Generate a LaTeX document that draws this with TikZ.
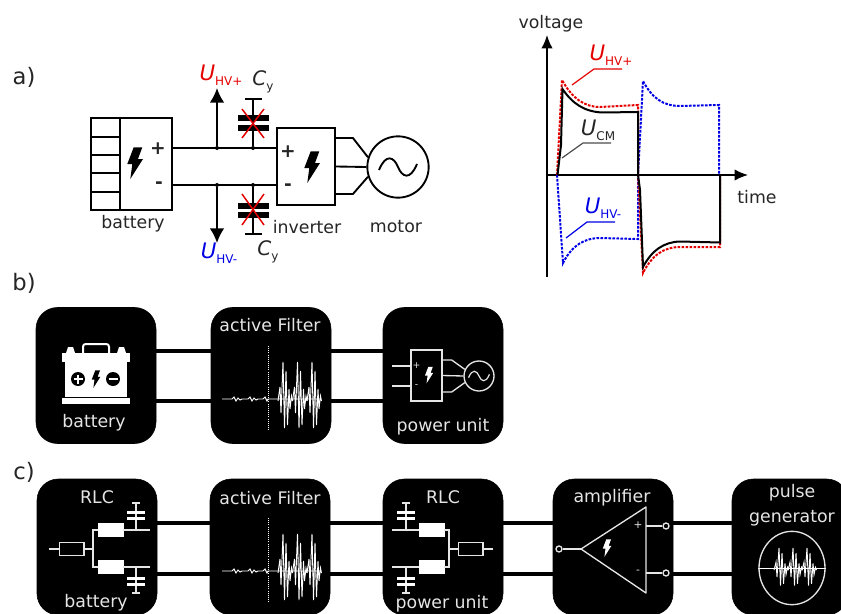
\documentclass[tikz,border=0pt]{standalone}
\usepackage{fontspec}
\setmainfont{DejaVu Sans}
\usetikzlibrary{shapes.geometric,arrows.meta,positioning}

\newcommand{\boltmark}[4]{\fill[#4,shift={(#1,#2)},scale=#3] (-1.3,-15.7) -- (7.3,-15.7) -- (3,-4) -- (8,-4) -- (-4.7,16) -- (-2.7,1) -- (-7.7,1) -- cycle;}
\newcommand{\sinemark}[4]{\draw[#4,shift={(#1,#2)},scale=#3] (-19,3) .. controls (-12,-14) and (-4,-10) .. (0,0) .. controls (4,10) and (12,14) .. (19,-3);}
\newcommand{\ulabel}[1]{{\fontsize{16}{16}\selectfont\textit{U}}\raisebox{-0.5ex}{\fontsize{9}{10}\selectfont #1}}
\newcommand{\clabel}{{\fontsize{15}{15}\selectfont\textit{C}}\raisebox{-0.5ex}{\fontsize{9}{10}\selectfont y}}
\newcommand{\burstline}{(-5,2) -- (-3,-12) -- (-2,14) -- (0,-37) -- (1.5,29) -- (3,-28) -- (4.5,26) -- (6,-10) -- (7,10) -- (8.5,-3) -- (9.5,2)}
% filter trace, origin on the dotted line
\newcommand{\filtertrace}{
	\draw[trace] (-46,0) -- (-36,0) -- (-34,-2) -- (-32,2) -- (-30,-1) -- (-28,1) -- (-26,0) -- (-20,0) -- (-18,-2) -- (-16,2) -- (-14,-1) -- (-12,1) -- (-10,0) -- (-5,0) -- (-3,-2) -- (-1,2) -- (0,0) -- (52,0);
	\draw[white,densely dotted,line width=0.6pt] (0,-53) -- (0,31);
	\foreach \bx in {15,29.5,44} {
		\draw[trace,shift={(\bx,0)}] \burstline;
	}
}
% RLC network, #1 is the anchor facing the fork and #2 the far one
\newcommand{\rlcnet}[2]{
	\node[hollowres] (ResIn) at (71.5,549) {};
	\node[solidres] (ResUp) at (110.5,530) {};
	\node[solidres] (ResDn) at (110.5,567) {};
	\coordinate (RlcIn) at (49,549);
	\coordinate (RlcFork) at (93,549);
	\coordinate (RlcUp) at (150,530);
	\coordinate (RlcDn) at (150,567);
	\coordinate (CapUp) at (136,530);
	\coordinate (CapDn) at (136,567);
	\draw[thinwire] (RlcIn) -- (ResIn.#1);
	\draw[thinwire] (ResIn.#2) -- (RlcFork);
	\draw[thinwire] (ResUp.#1) -| (RlcFork) |- (ResDn.#1);
	\draw[thinwire] (ResUp.#2) -- (RlcUp);
	\draw[thinwire] (ResDn.#2) -- (RlcDn);
	\draw[thinwire] (CapUp) -- (136,503);
	\draw[thinwire] (CapDn) -- (136,593);
	\draw[thinwire] (132,503) -- (140,503);
	\draw[thinwire] (132,593) -- (140,593);
	\fill[white] (127,511) rectangle (145,514);
	\fill[white] (127,517) rectangle (145,520);
	\fill[white] (127,577) rectangle (145,580);
	\fill[white] (127,583) rectangle (145,586);
}

\begin{document}
\begin{tikzpicture}[x=0.75pt,y=-0.75pt]

	\tikzset{
	every node/.style={font=\fontsize{13}{15}\selectfont,text=black!85},
	blackbox/.style={draw=black, fill=black, rounded corners=16pt, minimum width=90pt, minimum height=102pt, inner sep=0pt},
	lighttext/.style={text=white!90!black},
	tagtext/.style={font=\fontsize{17}{19}\selectfont},
	signtext/.style={font=\fontsize{14}{14}\selectfont\bfseries},
	bus/.style={line width=3pt, draw=black},
	wire/.style={line width=1.4pt, draw=black},
	thinwire/.style={line width=1pt, draw=white!90!black},
	trace/.style={line width=0.7pt, draw=white},
	hollowres/.style={draw=white!90!black, line width=1pt, minimum width=18.5pt, minimum height=10pt, inner sep=0pt},
	solidres/.style={draw=white, fill=white, minimum width=18.5pt, minimum height=10pt, inner sep=0pt},
	blockbox/.style={draw=black, line width=1.4pt, inner sep=0pt},
	capplate/.style={line width=4pt, draw=black},
	crossout/.style={line width=1.1pt, draw=red!90!black},
	jdot/.style={circle, fill=black, inner sep=0pt, minimum size=3pt},
	port/.style={circle, draw=white!90!black, fill=black, line width=1pt, inner sep=0pt, minimum size=4.5pt},
	bigarrow/.style={line width=1.4pt, draw=black, -{Latex[length=11pt,width=11pt]}},
	axisarrow/.style={line width=1.2pt, draw=black, -{Latex[length=10pt,width=8.5pt]}},
	leader/.style={line width=0.9pt},
	redtrace/.style={line width=1.5pt, draw=red!90!black, dash pattern=on 2pt off 1pt},
	bluetrace/.style={line width=1.5pt, draw=blue!90!black, dash pattern=on 2pt off 1pt},
	blacktrace/.style={line width=1.5pt, draw=black},
}

\clip (0,0) rectangle (841,613);
\fill[white] (0,0) rectangle (841,613);

\node[tagtext] (TagA) at (24,77) {a)};
\node[tagtext] (TagB) at (24,283) {b)};
\node[tagtext] (TagC) at (24,472) {c)};

% a) circuit
\node[blockbox,minimum width=21.75pt,minimum height=69pt] (CellA) at (105.5,164) {};
\node[blockbox,minimum width=39pt,minimum height=69pt] (BatA) at (146,164) {};
\node[blockbox,minimum width=43.5pt,minimum height=57.75pt] (InvA) at (306,166.5) {};
\node[circle,draw=black,line width=1.4pt,minimum size=46pt,inner sep=0pt] (MotorA) at (398,167) {};
\foreach \ry in {137,155,173,192} {
	\draw[wire] (91,\ry) -- (120,\ry);
}
\boltmark{135}{163}{1}{black}
\boltmark{312}{167}{1}{black}
\sinemark{398}{167}{1}{line width=1.4pt}
\node[signtext] at (158,149) (PlusBat) {+};
\node[signtext] at (159,185) (MinusBat) {-};
\node[signtext] at (288,152) (PlusInv) {+};
\node[signtext] at (288,187) (MinusInv) {-};

\draw[wire] ([shift={(0,-16)}]BatA.east) -- ([shift={(0,-18.5)}]InvA.west);
\draw[wire] ([shift={(0,21)}]BatA.east) -- ([shift={(0,18.5)}]InvA.west);
\draw[wire] ([shift={(0,-28.5)}]InvA.east) -- ++(17,0) -- (MotorA.162);
\draw[wire] (InvA.east) -- (MotorA.west);
\draw[wire] ([shift={(0,27.5)}]InvA.east) -- ++(17,0) -- (MotorA.198);

\node[jdot] (JunUp) at (217,148) {};
\node[jdot] (JunDn) at (217,185) {};
\node[jdot] (CapTop) at (253,148) {};
\node[jdot] (CapBot) at (253,185) {};
\coordinate (TipUp) at (217,88);
\coordinate (TipDn) at (217,243);
\coordinate (EarthUp) at (253,99);
\coordinate (EarthDn) at (253,234);
\draw[bigarrow] (JunUp) -- (TipUp);
\draw[bigarrow] (JunDn) -- (TipDn);
\draw[wire] (CapTop) -- (EarthUp);
\draw[wire] (CapBot) -- (EarthDn);
\draw[wire] (245,99) -- (262,99);
\draw[wire] (245,234) -- (262,234);
\draw[capplate] (238,118) -- (269,118);
\draw[capplate] (238,128) -- (269,128);
\draw[capplate] (238,206) -- (269,206);
\draw[capplate] (238,215) -- (269,215);
\draw[crossout] (242,109) -- (264,138);
\draw[crossout] (264,109) -- (242,138);
\draw[crossout] (242,194) -- (264,225);
\draw[crossout] (264,194) -- (242,225);

\node[text=red!90!black] (LabPos) at (221,75) {\ulabel{HV+}};
\node[text=blue!90!black] (LabNeg) at (219,253) {\ulabel{HV-}};
\node (LabCapUp) at (263,82) {\clabel};
\node (LabCapDn) at (268,252) {\clabel};
\node (LabBat) at (133,224) {battery};
\node (LabInv) at (307,227) {inverter};
\node (LabMot) at (396,227) {motor};

% a) voltage plot
\coordinate (Origin) at (547,175);
\coordinate (AxisTop) at (547,35);
\coordinate (AxisLow) at (547,277);
\coordinate (AxisEnd) at (748,175);
\draw[axisarrow] (AxisLow) -- (AxisTop);
\draw[axisarrow] (Origin) -- (AxisEnd);
\node (LabVolt) at (551,24) {voltage};
\node (LabTime) at (757,197) {time};

\draw[bluetrace] (557,175) -- (563,263) .. controls (572,245) and (585,238) .. (600,238) -- (638,239) -- (638,175) -- (643,81) .. controls (652,98) and (663,106) .. (680,106) -- (719,105) -- (719,175);
\draw[redtrace] (557,175) -- (562,80) .. controls (572,98) and (584,107) .. (600,107) -- (638,105) -- (638,175) -- (643,273) .. controls (652,255) and (664,247) .. (680,247) -- (720,247) -- (720,175);
\draw[blacktrace] (557.5,175) -- (561,145) -- (562.5,89) .. controls (572,103) and (584,112) .. (603,112.5) -- (638,112) -- (638,175) -- (640,190) -- (643,267) .. controls (652,250) and (664,242) .. (680,241.5) -- (720,242.5) -- (720,175);

\node[text=red!90!black] (LabPlotPos) at (611,55) {\ulabel{HV+}};
\node (LabPlotCm) at (598,130) {\ulabel{CM}};
\node[text=blue!90!black] (LabPlotNeg) at (603,208) {\ulabel{HV-}};
\draw[leader,draw=red!90!black] (572,85) -- (594,69) -- (622,69);
\draw[leader,draw=black!70] (562,158) -- (583,143) -- (611,143);
\draw[leader,draw=blue!90!black] (566,238) -- (587,222) -- (615,222);

% b)
\node[blackbox] (BatB) at (96,375.5) {};
\node[blackbox] (FilB) at (271,375.5) {};
\node[blackbox] (UnitB) at (443,375.5) {};
\draw[bus] ([shift={(0,-25)}]BatB.east) -- ([shift={(0,-25)}]FilB.west);
\draw[bus] ([shift={(0,25)}]BatB.east) -- ([shift={(0,25)}]FilB.west);
\draw[bus] ([shift={(0,-25)}]FilB.east) -- ([shift={(0,-25)}]UnitB.west);
\draw[bus] ([shift={(0,25)}]FilB.east) -- ([shift={(0,25)}]UnitB.west);
\node[lighttext] (LabBatB) at (94,423) {battery};
\node[lighttext] (LabFilB) at (270,325) {active Filter};
\node[lighttext] (LabUnitB) at (443,427) {power unit};

% battery icon
\fill[white] (62,353) rectangle (130,362);
\fill[white] (62,398) rectangle (130,404);
\fill[white] (65,362) rectangle (127,397);
\fill[white] (66,353) -- (68,347) -- (73,347) -- (75,353) -- cycle;
\fill[white] (117,353) -- (119,347) -- (124,347) -- (126,353) -- cycle;
\draw[white,line width=1.5pt,rounded corners=2pt] (83,353) -- (83,344) -- (109,344) -- (109,353);
\fill[black] (78,379) circle (7);
\fill[black] (113,379) circle (7);
\draw[white,line width=1.2pt] (73.5,379) -- (82.5,379);
\draw[white,line width=1.2pt] (78,374.5) -- (78,383.5);
\draw[white,line width=1.2pt] (108.5,379) -- (117.5,379);
\boltmark{96}{379}{0.55}{black}

\begin{scope}[shift={(268,399)}]
\filtertrace
\end{scope}

% power unit symbol
\node[draw=white!90!black,line width=1pt,minimum width=23.25pt,minimum height=38.25pt,inner sep=0pt] (InvB) at (426.5,375.5) {};
\node[circle,draw=white!90!black,line width=1pt,minimum size=22.5pt,inner sep=0pt] (MotorB) at (479,376) {};
\coordinate (StubUp) at (392,366);
\coordinate (StubDn) at (392,386);
\draw[thinwire] (StubUp) -- (StubUp -| InvB.west);
\draw[thinwire] (StubDn) -- (StubDn -| InvB.west);
\draw[thinwire] ([shift={(0,-15.5)}]InvB.east) -- ++(9,0) -- (MotorB.155);
\draw[thinwire] (InvB.east) -- (MotorB.west);
\draw[thinwire] ([shift={(0,16.5)}]InvB.east) -- ++(9,0) -- (MotorB.205);
\boltmark{429}{375}{0.52}{white}
\sinemark{479}{376}{0.55}{white!90!black,line width=0.9pt}
\node[lighttext] (PlusB) at (416.5,366) {\fontsize{7}{7}\selectfont +};
\node[lighttext] (MinusB) at (416.5,386) {\fontsize{7}{7}\selectfont -};

% c)
\node[blackbox] (BatC) at (97,547) {};
\node[blackbox] (FilC) at (270,547) {};
\node[blackbox] (UnitC) at (443,547) {};
\node[blackbox] (AmpC) at (613,547) {};
\node[blackbox,minimum width=87pt] (GenC) at (790,547) {};
\foreach \from/\to in {BatC/FilC,FilC/UnitC,UnitC/AmpC,AmpC/GenC} {
	\draw[bus] ([shift={(0,-24)}]\from.east) -- ([shift={(0,-24)}]\to.west);
	\draw[bus] ([shift={(0,27)}]\from.east) -- ([shift={(0,27)}]\to.west);
}
\node[lighttext] (LabRlcL) at (97,497) {RLC};
\node[lighttext] (LabBatC) at (96,603) {battery};
\node[lighttext] (LabFilC) at (270,498) {active Filter};
\node[lighttext] (LabRlcR) at (443,497) {RLC};
\node[lighttext] (LabUnitC) at (442,604) {power unit};
\node[lighttext] (LabAmp) at (612,498) {amplifier};
\node[lighttext] (LabPulse) at (792,493) {pulse};
\node[lighttext] (LabGen) at (792,518) {generator};

\rlcnet{west}{east}
\begin{scope}[shift={(542,0)},xscale=-1]
\rlcnet{east}{west}
\end{scope}

\begin{scope}[shift={(268,571)}]
\filtertrace
\end{scope}

% amplifier
\draw[thinwire,line join=round] (646,507) -- (646,593) -- (581,549) -- cycle;
\node[port] (AmpIn) at (559,549) {};
\node[port] (AmpOutP) at (666,526) {};
\node[port] (AmpOutN) at (666,573) {};
\coordinate (AmpTip) at (581,549);
\draw[thinwire] (AmpIn) -- (AmpTip);
\draw[thinwire] (646,526) -- (AmpOutP);
\draw[thinwire] (646,573) -- (AmpOutN);
\boltmark{607}{548}{0.55}{white}
\node[lighttext] (PlusAmp) at (638,525) {\fontsize{8}{8}\selectfont +};
\node[lighttext] (MinusAmp) at (638,572) {\fontsize{8}{8}\selectfont -};

% pulse generator
\node[ellipse,draw=white!90!black,line width=1pt,minimum width=49.5pt,minimum height=55pt,inner sep=0pt] (PulseDial) at (792,568) {};
\draw[trace] (PulseDial.west) -- (PulseDial.east);
\begin{scope}[shift={(764,569)},yscale=0.57]
\foreach \bx in {15,29,43} {
	\draw[trace,shift={(\bx,0)}] \burstline;
}
\end{scope}

\end{tikzpicture}
\end{document}
